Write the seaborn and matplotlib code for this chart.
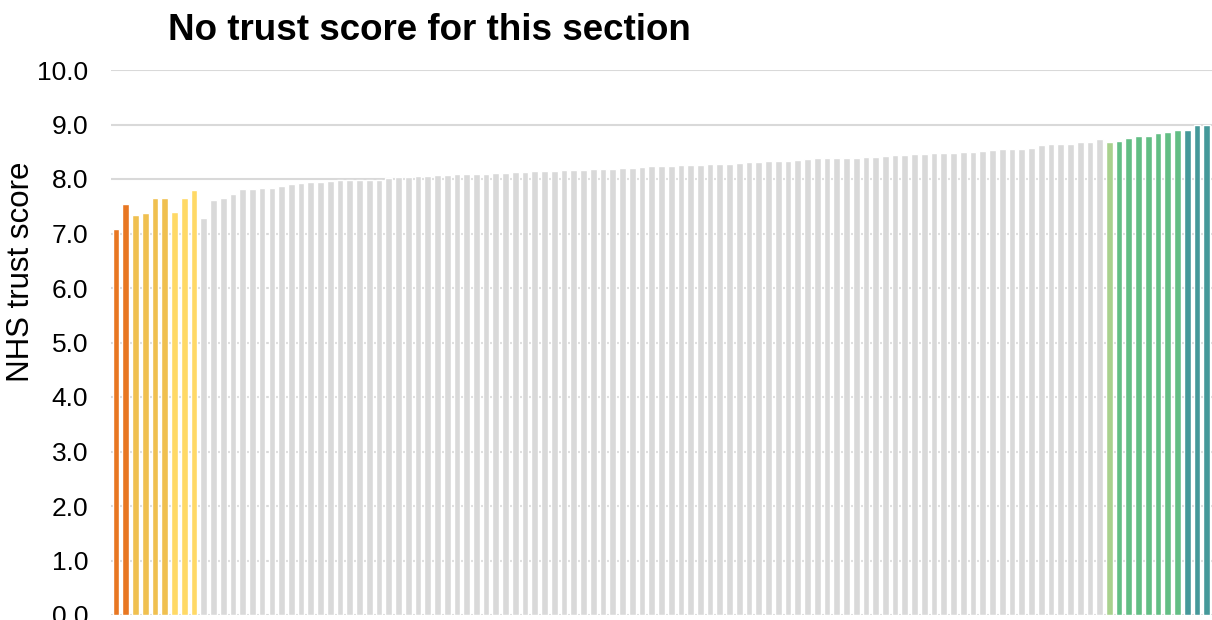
import matplotlib
matplotlib.use("Agg")
import matplotlib.pyplot as plt
import seaborn as sns
import pandas as pd

# ---- data ----
scores = [
    7.08, 7.54, 7.34, 7.38, 7.65, 7.65, 7.39, 7.65, 7.80, 7.28,
    7.61, 7.66, 7.73, 7.82, 7.82, 7.83, 7.84, 7.87, 7.90, 7.93,
    7.95, 7.95, 7.96, 7.99, 7.99, 7.99, 7.99, 7.99, 8.02, 8.03,
    8.04, 8.05, 8.06, 8.07, 8.07, 8.09, 8.09, 8.10, 8.10, 8.11,
    8.11, 8.12, 8.13, 8.14, 8.15, 8.15, 8.17, 8.17, 8.17, 8.18,
    8.18, 8.19, 8.20, 8.21, 8.22, 8.23, 8.23, 8.23, 8.25, 8.25,
    8.25, 8.27, 8.27, 8.28, 8.29, 8.31, 8.31, 8.33, 8.33, 8.33,
    8.35, 8.37, 8.38, 8.38, 8.38, 8.38, 8.38, 8.40, 8.40, 8.42,
    8.44, 8.44, 8.45, 8.46, 8.48, 8.48, 8.48, 8.50, 8.50, 8.51,
    8.53, 8.55, 8.55, 8.55, 8.56, 8.62, 8.64, 8.64, 8.65, 8.67,
    8.68, 8.73, 8.68, 8.69, 8.76, 8.78, 8.79, 8.84, 8.86, 8.90,
    8.90, 9.00, 9.00,
]
band_names = ["much worse", "worse", "somewhat worse", "about the same",
              "somewhat better", "better", "much better"]
band_counts = [2, 4, 3, 93, 1, 7, 3]
band_colors = ["#E87722", "#F0C050", "#FFD966", "#D9D9D9",
               "#A9D18E", "#63BE85", "#45999A"]
yticks = [0, 1, 2, 3, 4, 5, 6, 7, 8, 9, 10]
title = "No trust score for this section"
ylabel = "NHS trust score"

bands = []
for name, n in zip(band_names, band_counts):
    bands += [name] * n
df = pd.DataFrame({"trust": list(range(len(scores))), "score": scores, "band": bands})

# ---- figure ----
sns.set_style("white")
plt.rcParams["font.family"] = ["Liberation Sans", "DejaVu Sans"]

W, H = 1212, 620
fig = plt.figure(figsize=(W / 100, H / 100), dpi=100)
ax_left, ax_right, ax_top, ax_bottom = 111, 1212, 70, 615
ax = fig.add_axes([ax_left / W, 1 - ax_bottom / H,
                   (ax_right - ax_left) / W, (ax_bottom - ax_top) / H])

sns.barplot(data=df, x="trust", y="score", hue="band",
            palette=dict(zip(band_names, band_colors)), hue_order=band_names,
            dodge=False, width=0.69, saturation=1, legend=False, ax=ax,
            zorder=3)

ax.set_xlim(-0.52, 112.54)
ax.set_ylim(0, 10)
ax.set_yticks(yticks)
ax.set_yticklabels([f"{v:.1f}" for v in yticks], fontsize=19, color="#000000")
ax.set_xticks([])
ax.set_xlabel("")
ax.set_ylabel("")
ax.grid(axis="y", color="#D9D9D9", linewidth=1.5, zorder=0)
ax.set_axisbelow(True)
ax.tick_params(axis="y", length=0, pad=16.5)
for s in ax.spines.values():
    s.set_visible(False)

fig.text(168 / W, 1 - 30 / H, title, fontsize=26.5, fontweight="bold",
         ha="left", va="center", color="#000000")
fig.text(21 / W, 1 - 272 / H, ylabel, fontsize=22.5, rotation=90,
         ha="center", va="center", color="#000000")

fig.savefig("out.png", dpi=100)
